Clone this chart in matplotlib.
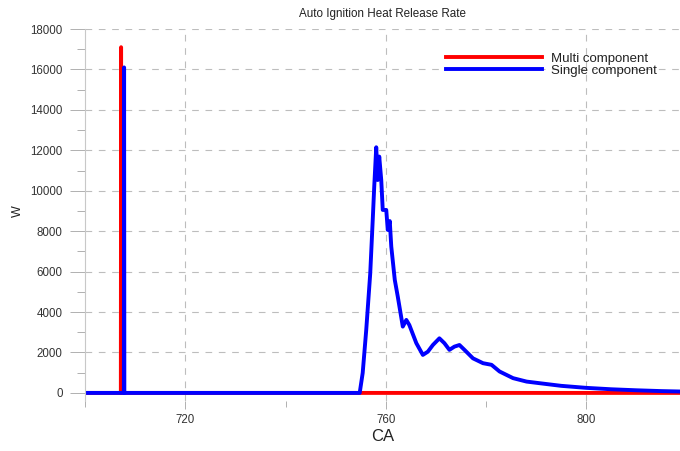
import numpy as np
import matplotlib.pyplot as plt
from matplotlib.ticker import MultipleLocator

# Data
multi_ca = [700, 707.15, 707.2, 707.25, 818.7]
multi_w = [0, 0, 17100, 0, 0]

single_ca = [700, 707.75, 707.8, 707.85, 754.8, 755.4, 756.1, 756.9, 757.4, 757.7,
             758.1, 758.4, 758.7, 759.1, 759.4, 760.1, 760.4, 760.8, 761.1, 761.8,
             762.4, 763.4, 764.1, 764.7, 766.1, 767.4, 768.4, 769.4, 770.7, 771.7,
             772.7, 773.7, 774.7, 775.7, 777.4, 779.4, 781.1, 782.7, 785.4, 788.1,
             790.7, 795, 800, 805, 810, 815, 818.7]
single_w = [0, 0, 16100, 0, 0, 990, 3100, 5900, 8550, 10200,
            12150, 10530, 11690, 10530, 9050, 9050, 8060, 8500, 7240, 5590,
            4760, 3280, 3610, 3360, 2460, 1880, 2040, 2370, 2700, 2460,
            2130, 2290, 2370, 2130, 1710, 1470, 1390, 1060, 730, 560,
            480, 350, 250, 180, 130, 90, 70]

x_major = [720, 760, 800]
x_minor = [700, 740, 780]

plt.rcParams['font.family'] = ['Liberation Sans', 'DejaVu Sans']

fig = plt.figure(figsize=(6.8, 4.51), dpi=100)
ax = fig.add_axes([85 / 680, 1 - 401 / 451, 1 - 85 / 680, (401 - 29) / 451])

ax.plot(multi_ca, multi_w, color='#ff0000', lw=2.8, label='Multi component')
ax.plot(single_ca, single_w, color='#0000ff', lw=2.8, label='Single component')

ax.set_xlim(700, 818.7)
ax.set_ylim(-400, 18000)

ax.set_xticks(x_major)
ax.set_xticks(x_minor, minor=True)
ax.yaxis.set_major_locator(MultipleLocator(2000))
ax.yaxis.set_minor_locator(MultipleLocator(1000))

for s in ['top', 'right', 'bottom']:
    ax.spines[s].set_visible(False)
ax.spines['left'].set_color('#c8c8c8')
ax.spines['left'].set_linewidth(0.8)

ax.tick_params(axis='y', which='major', length=11, width=0.7, color='#b0b0b0',
               labelsize=8.3, labelcolor='#333333', pad=5)
ax.tick_params(axis='y', which='minor', length=6, width=0.7, color='#b0b0b0')
ax.tick_params(axis='x', which='major', length=5.5, width=0.7, color='#b0b0b0',
               labelsize=8.3, labelcolor='#333333', pad=4)
ax.tick_params(axis='x', which='minor', length=4, width=0.7, color='#b0b0b0')

ax.grid(True, which='major', color='#bdbdbd', linestyle=(0, (6, 6)), linewidth=0.8)
ax.set_axisbelow(True)

ax.set_title('Auto Ignition Heat Release Rate', fontsize=8.4, color='#222222', pad=9)
ax.set_xlabel('CA', fontsize=12, color='#222222', labelpad=2)
ax.set_ylabel('W', fontsize=9, color='#222222')
ax.yaxis.set_label_coords(-0.102, 0.51)

leg = ax.legend(loc='upper left', bbox_to_anchor=(439 / 680, 1 - 46 / 451),
                bbox_transform=fig.transFigure, frameon=False, fontsize=9.5,
                handlelength=7.3, handletextpad=0.7, labelspacing=0.0, borderpad=0)
for t in leg.get_texts():
    t.set_color('#222222')

fig.savefig('out.png', dpi=100)
